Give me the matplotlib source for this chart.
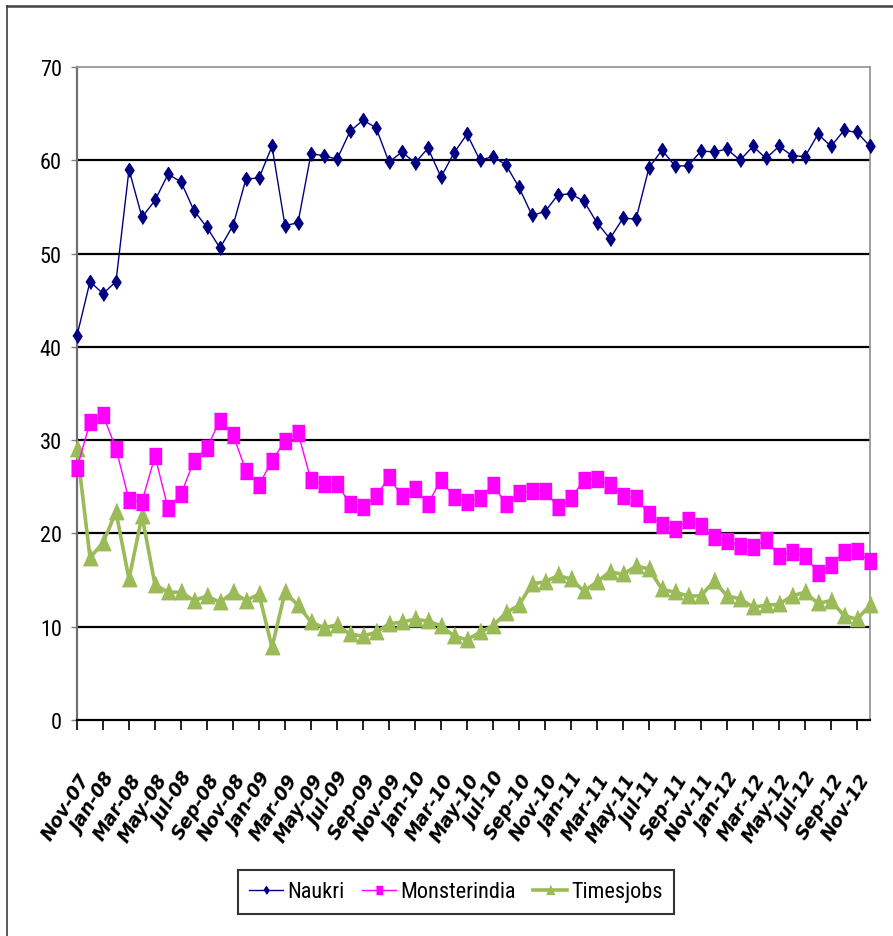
import matplotlib
matplotlib.use("Agg")
import matplotlib.pyplot as plt
from matplotlib.lines import Line2D
import numpy as np

# monthly series, Nov-07 .. Dec-12
months = ["Nov-07", "Dec-07", "Jan-08", "Feb-08", "Mar-08", "Apr-08", "May-08", "Jun-08",
          "Jul-08", "Aug-08", "Sep-08", "Oct-08", "Nov-08", "Dec-08", "Jan-09", "Feb-09",
          "Mar-09", "Apr-09", "May-09", "Jun-09", "Jul-09", "Aug-09", "Sep-09", "Oct-09",
          "Nov-09", "Dec-09", "Jan-10", "Feb-10", "Mar-10", "Apr-10", "May-10", "Jun-10",
          "Jul-10", "Aug-10", "Sep-10", "Oct-10", "Nov-10", "Dec-10", "Jan-11", "Feb-11",
          "Mar-11", "Apr-11", "May-11", "Jun-11", "Jul-11", "Aug-11", "Sep-11", "Oct-11",
          "Nov-11", "Dec-11", "Jan-12", "Feb-12", "Mar-12", "Apr-12", "May-12", "Jun-12",
          "Jul-12", "Aug-12", "Sep-12", "Oct-12", "Nov-12", "Dec-12"]

naukri = [41.2, 47.0, 45.7, 47.0, 59.0, 53.9, 55.7, 58.5, 57.7, 54.6, 52.8, 50.6,
          53.0, 58.0, 58.1, 61.5, 53.0, 53.3, 60.7, 60.5, 60.1, 63.1, 64.3, 63.5,
          59.8, 60.9, 59.7, 61.3, 58.2, 60.8, 62.8, 60.0, 60.4, 59.5, 57.1, 54.1,
          54.5, 56.3, 56.4, 55.6, 53.3, 51.6, 53.8, 53.7, 59.2, 61.1, 59.4, 59.4,
          61.0, 60.9, 61.2, 60.0, 61.5, 60.2, 61.5, 60.5, 60.4, 62.8, 61.5, 63.2,
          63.0, 61.5]

monsterindia = [27.0, 31.9, 32.7, 29.1, 23.6, 23.4, 28.3, 22.7, 24.2, 27.8, 29.2, 32.1,
                30.6, 26.7, 25.2, 27.8, 29.9, 30.8, 25.7, 25.3, 25.3, 23.2, 22.8, 24.0,
                26.0, 24.0, 24.8, 23.2, 25.7, 23.9, 23.4, 23.8, 25.2, 23.2, 24.3, 24.6,
                24.6, 22.8, 23.8, 25.7, 25.8, 25.2, 24.0, 23.8, 22.1, 20.9, 20.5, 21.4,
                20.8, 19.6, 19.2, 18.7, 18.5, 19.3, 17.6, 18.0, 17.6, 15.8, 16.6, 18.0,
                18.1, 17.0]

timesjobs = [29.1, 17.4, 19.0, 22.3, 15.1, 21.9, 14.5, 13.7, 13.7, 12.8, 13.3, 12.6,
             13.7, 12.8, 13.5, 7.8, 13.7, 12.3, 10.5, 9.9, 10.2, 9.2, 9.0, 9.4,
             10.3, 10.5, 10.8, 10.6, 10.1, 9.0, 8.6, 9.4, 10.1, 11.5, 12.3, 14.6,
             14.8, 15.5, 15.1, 13.8, 14.8, 15.9, 15.6, 16.5, 16.2, 14.0, 13.7, 13.3,
             13.3, 14.9, 13.3, 13.0, 12.1, 12.3, 12.4, 13.3, 13.7, 12.5, 12.8, 11.2,
             10.8, 12.3]

y_ticks = [0, 10, 20, 30, 40, 50, 60, 70]

narrow = ["Liberation Sans Narrow", "DejaVu Sans Condensed", "Roboto Condensed", "Liberation Sans", "DejaVu Sans"]
plt.rcParams["font.family"] = narrow

fig = plt.figure(figsize=(8.93, 9.37), dpi=100)
ax = fig.add_axes([77 / 893, 1 - 721 / 937, (870 - 77) / 893, (721 - 68) / 937])

x = np.arange(len(months))

# tall marker shapes
diamond = [(0, -1), (0.65, 0), (0, 1), (-0.65, 0)]
square = [(-0.8, -1), (0.8, -1), (0.8, 1), (-0.8, 1)]
triangle = [(-0.8, -0.8), (0.8, -0.8), (0, 1)]

ax.plot(x, naukri, color="#000080", lw=1.0, marker=diamond, ms=10,
        mfc="#000080", mec="#000080", label="Naukri", clip_on=False, zorder=5)
ax.plot(x, monsterindia, color="#FF00FF", lw=1.0, marker=square, ms=11,
        mfc="#FF00FF", mec="#FF00FF", label="Monsterindia", clip_on=False, zorder=4)
ax.plot(x, timesjobs, color="#9BBB59", lw=2.6, marker=triangle, ms=13,
        mfc="#9BBB59", mec="#9BBB59", label="Timesjobs", clip_on=False, zorder=3)

ax.set_xlim(0, len(months) - 1)
ax.set_ylim(0, 70)
ax.set_yticks(y_ticks)
ax.set_yticklabels([str(v) for v in y_ticks], fontsize=16)
ax.tick_params(axis="y", length=4, width=1, color="#808080", pad=7)

ax.set_xticks(x[::2])
ax.set_xticklabels(months[::2])
for lab in ax.get_xticklabels():
    lab.set_family("DejaVu Sans")
    lab.set_fontstyle("oblique")
    lab.set_fontweight("bold")
    lab.set_fontsize(13.5)
    lab.set_rotation(58)
    lab.set_rotation_mode("anchor")
    lab.set_ha("right")
    lab.set_va("top")
ax.tick_params(axis="x", length=7, width=1.2, color="black", pad=29)

for v in y_ticks[1:-1]:
    ax.axhline(v, color="black", lw=1.6, zorder=1)

ax.spines["left"].set_color("#707070")
ax.spines["left"].set_linewidth(1.6)
ax.spines["bottom"].set_color("black")
ax.spines["bottom"].set_linewidth(1.6)
ax.spines["top"].set_color("#909090")
ax.spines["top"].set_linewidth(1.2)
ax.spines["right"].set_color("#909090")
ax.spines["right"].set_linewidth(1.2)

leg = fig.legend(loc="center", bbox_to_anchor=(456 / 893, 1 - 893 / 937), ncol=3,
                 frameon=True, fancybox=False, edgecolor="black", fontsize=16,
                 handlelength=1.5, columnspacing=0.8, handletextpad=0.2,
                 borderpad=0.5, markerscale=0.55)
leg.get_frame().set_linewidth(1.5)

# chart area border (left and top edges)
fig.add_artist(Line2D([7 / 893, 7 / 893], [0, 1 - 7 / 937], color="#404040", lw=1.2))
fig.add_artist(Line2D([7 / 893, 1], [1 - 7 / 937, 1 - 7 / 937], color="#404040", lw=1.8))

fig.savefig("out.png", dpi=100)
